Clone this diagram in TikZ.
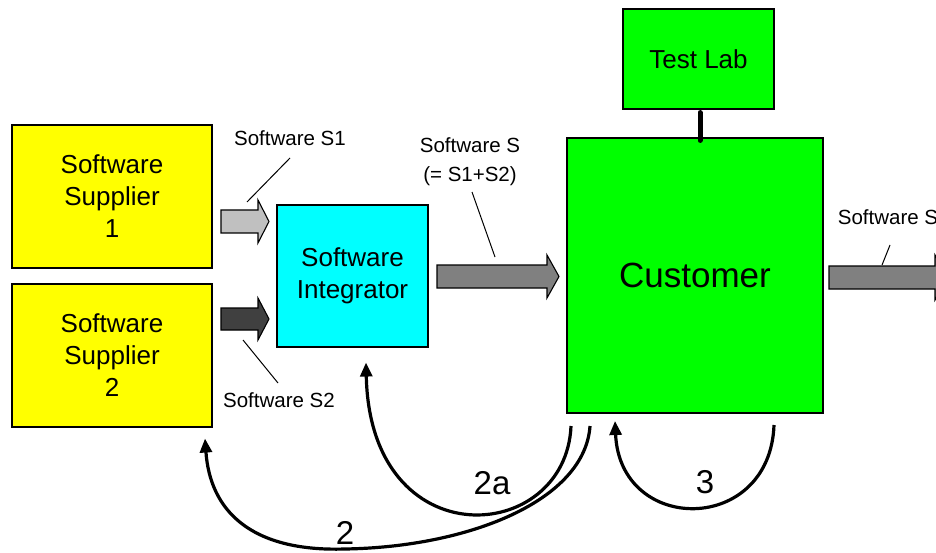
\documentclass[tikz,border=0pt]{standalone}
\usepackage{fontspec}
\setmainfont{Liberation Sans}
\usetikzlibrary{arrows.meta}
\definecolor{supyellow}{HTML}{FFFF00}
\definecolor{intcyan}{HTML}{00FFFF}
\definecolor{custgreen}{HTML}{00FF00}
\definecolor{swlight}{HTML}{C0C0C0}
\definecolor{swdark}{HTML}{404040}
\definecolor{swmid}{HTML}{808080}
\tikzset{
  box/.style={draw=black, line width=1.1pt, align=center, inner sep=0pt,
    font=\fontsize{26}{32}\selectfont},
  lbl/.style={font=\fontsize{20.5}{29}\selectfont, align=center, inner sep=0pt},
  numlbl/.style={font=\fontsize{33}{36}\selectfont, inner sep=0pt},
  leader/.style={line width=1pt},
  blockarrow/.style={draw=black, line width=1.1pt},
  loop/.style={line width=3.2pt, -{Triangle[length=14pt,width=12pt]}}
}
\begin{document}
\begin{tikzpicture}[x=1pt,y=-1pt]
\clip (0,0) rectangle (936,553);
\useasboundingbox (0,0) rectangle (936,553);

% organisations
\node[box, fill=supyellow, minimum width=200pt, minimum height=143pt] (sup1) at (112,196.5) {Software\\Supplier\\1};
\node[box, fill=supyellow, minimum width=200pt, minimum height=143pt] (sup2) at (112,355.5) {Software\\Supplier\\2};
\node[box, fill=intcyan, minimum width=151pt, minimum height=142pt] (integ) at (352.5,276) {Software\\Integrator};
\node[box, fill=custgreen, minimum width=256pt, minimum height=275pt, font=\fontsize{35}{40}\selectfont] (cust) at (695,275.5) {Customer};
\node[box, fill=custgreen, minimum width=151pt, minimum height=100pt] (lab) at (698.5,59) {Test Lab};

% link between test lab and customer
\draw[line width=5pt, line cap=round] ([xshift=1.5pt,yshift=-3pt]lab.south) -- ([xshift=1.5pt,yshift=-3pt]lab.south |- cust.north);

% software deliveries
\draw[blockarrow, fill=swlight] (221,210) -- (258,210) -- (258,200) -- (269,221.5) -- (258,243) -- (258,233) -- (221,233) -- cycle;
\draw[blockarrow, fill=swdark] (221,308) -- (258,308) -- (258,298) -- (269,319) -- (258,340) -- (258,330) -- (221,330) -- cycle;
\draw[blockarrow, fill=swmid] (437,265) -- (547,265) -- (547,255) -- (559,276.5) -- (547,298) -- (547,288) -- (437,288) -- cycle;
\draw[blockarrow, fill=swmid] (829,266) -- (935,266) -- (935,255) -- (947,277.5) -- (935,300) -- (935,289) -- (829,289) -- cycle;

% delivery labels
\node[lbl] (ls1) at (290,138) {Software S1};
\draw[leader] (290,158) -- (247,202);
\node[lbl] (ls2) at (279,400) {Software S2};
\draw[leader] (243,340) -- (278,383);
\node[lbl] (ls) at (470,162) {Software S\\(= S1+S2)};
\draw[leader] (472,192) -- (495,257);
\node[lbl] (lsout) at (888,217) {Software S};
\draw[leader] (890,245) -- (882,265);

% feedback loops
\coordinate (f2a) at (571,426);
\coordinate (f2) at (590,426);
\coordinate (f3a) at (774,425);
\coordinate (f3b) at (615,421);
\draw[loop] (f2a) .. controls (566,545) and (370,560) .. ([xshift=13.5pt,yshift=-15pt]integ.south);
\draw[loop] (f2) .. controls (585,500) and (470,547) .. (345,549) .. controls (250,552) and (210,510) .. ([xshift=93pt,yshift=-11pt]sup2.south);
\draw[loop] (f3a) .. controls (770,535) and (620,535) .. (f3b);

\node[numlbl] (n2a) at (492,483) {2a};
\node[numlbl] (n2) at (345,533) {2};
\node[numlbl] (n3) at (705,482) {3};
\end{tikzpicture}
\end{document}
